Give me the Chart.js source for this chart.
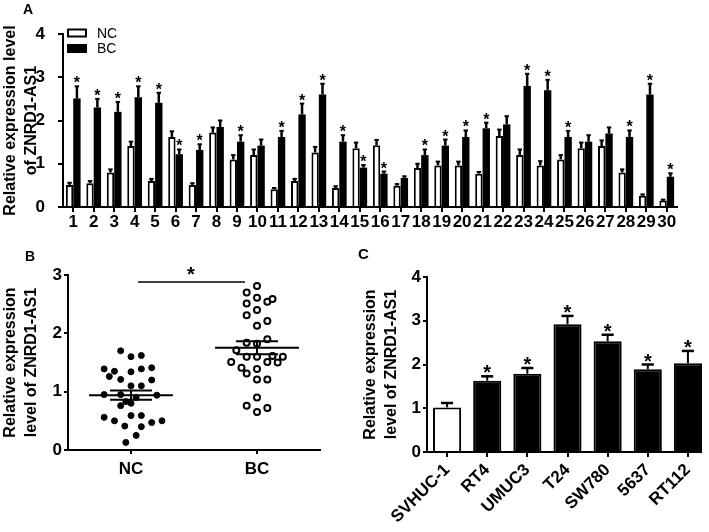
<!DOCTYPE html>
<html><head><meta charset="utf-8">
<script src="https://cdn.jsdelivr.net/npm/chart.js@4.4.1/dist/chart.umd.min.js"></script>
<style>
html,body{margin:0;padding:0;background:#fff;}
#wrap{position:relative;width:709px;height:532px;overflow:hidden;background:#fff;}
canvas{position:absolute;}
.lbl{position:absolute;font:bold 14px "Liberation Sans",Arial,sans-serif;line-height:14px;color:#000;}
</style></head><body>
<div id="wrap">
<canvas id="cA" width="709" height="250" style="left:0;top:0"></canvas>
<canvas id="cB" width="340" height="282" style="left:0;top:250px"></canvas>
<canvas id="cC" width="349" height="282" style="left:360px;top:250px"></canvas>
<div class="lbl" style="left:23px;top:2px">A</div>
<div class="lbl" style="left:25px;top:249px">B</div>
<div class="lbl" style="left:358px;top:246px;font-size:15px;line-height:15px">C</div>
</div>
<script>
// ---------- Panel A data ----------
const caseLabels = ['1','2','3','4','5','6','7','8','9','10','11','12','13','14','15','16','17','18','19','20','21','22','23','24','25','26','27','28','29','30'];
const ncValues = [0.51,0.55,0.80,1.41,0.60,1.62,0.51,1.72,1.10,1.20,0.41,0.60,1.26,0.44,1.36,1.43,0.49,0.90,0.96,0.96,0.77,1.64,1.20,0.96,1.10,1.36,1.41,0.80,0.26,0.15];
const ncErrors = [0.05,0.05,0.07,0.10,0.05,0.13,0.04,0.12,0.10,0.13,0.03,0.05,0.13,0.04,0.13,0.12,0.04,0.10,0.09,0.09,0.04,0.15,0.13,0.10,0.10,0.13,0.13,0.07,0.03,0.02];
const bcValues = [2.51,2.30,2.20,2.54,2.41,1.22,1.32,1.85,1.51,1.42,1.62,2.14,2.60,1.51,0.91,0.77,0.67,1.20,1.42,1.62,1.82,1.91,2.80,2.70,1.62,1.51,1.70,1.62,2.60,0.70];
const bcErrors = [0.28,0.20,0.23,0.25,0.23,0.11,0.13,0.15,0.15,0.14,0.14,0.25,0.25,0.15,0.06,0.05,0.04,0.13,0.14,0.15,0.13,0.19,0.28,0.24,0.14,0.15,0.14,0.15,0.25,0.08];
const bcSignificant = [1,1,1,1,1,1,1,0,1,0,1,1,1,1,1,1,0,1,1,1,1,0,1,1,1,0,0,1,1,1];
const seriesNames = ['NC','BC'];
const yTitle = ['Relative expression level','of ZNRD1-AS1'];

// ---------- Panel B data ----------
const groupLabels = ['NC','BC'];
const ncScatter = [1.70,1.60,1.62,1.39,1.35,1.34,1.39,1.41,1.26,1.21,1.20,1.10,1.10,0.95,0.94,0.95,0.90,0.83,0.76,0.80,0.56,0.50,0.59,0.59,0.47,0.50,0.41,0.40,0.25,0.13];
const ncJitterSlots = [-1,0,1,-2.6,-1.6,0,1,2,-2.1,-1,2,0,1,-2.6,2.5,-1,0.5,-0.5,-1,0,-2.6,-1.6,0,1,2,3,-0.6,1,0.5,-0.5];
const bcScatter = [2.81,2.70,2.61,2.54,2.59,2.51,2.40,2.31,2.21,2.13,1.90,1.84,1.82,1.71,1.60,1.60,1.61,1.60,1.51,1.41,1.39,1.51,1.50,1.31,1.21,1.21,0.90,0.76,0.65,0.72];
const bcJitterSlots = [0,-1,0,1,1.5,-1,0,-1,1,0,1,-1,0,-2,-1,0,1.5,2.5,-2.5,-1.5,0,1,2,-1,0,1,0,-1,0,1];
const yTitleB = ['Relative expression','level of ZNRD1-AS1'];

// ---------- Panel C data ----------
const cellLines = ['SVHUC-1','RT4','UMUC3','T24','SW780','5637','RT112'];
const cellValues = [1.02,1.63,1.79,2.92,2.53,1.89,2.03];
const cellErrors = [0.10,0.10,0.13,0.19,0.15,0.11,0.28];
const cellSignificant = [0,1,1,1,1,1,1];

// ---------- common ----------
const FONT = '"Liberation Sans", Arial, Helvetica, sans-serif';
Chart.defaults.font.family = FONT;
Chart.defaults.color = '#000';
const INK = '#000';
const TICK = 17;

function drawStar(ctx, x, bottomY, size) {
  ctx.save();
  ctx.font = 'bold ' + size + 'px ' + FONT;
  ctx.fillStyle = INK; ctx.textAlign = 'center'; ctx.textBaseline = 'alphabetic';
  const m = ctx.measureText('*');
  ctx.fillText('*', x, bottomY - m.actualBoundingBoxDescent);
  ctx.restore();
}

const errorBarPlugin = {
  id: 'errorBars',
  afterDatasetsDraw(chart, args, opts) {
    const ctx = chart.ctx, y = chart.scales.y;
    chart.data.datasets.forEach((ds, di) => {
      if (!ds.errors) return;
      const meta = chart.getDatasetMeta(di);
      meta.data.forEach((bar, i) => {
        const v = ds.data[i], e = ds.errors[i];
        const yTop = y.getPixelForValue(v + e), yBase = y.getPixelForValue(v);
        ctx.save();
        ctx.strokeStyle = INK; ctx.lineWidth = opts.lineWidth; ctx.lineCap = 'butt';
        ctx.beginPath(); ctx.moveTo(bar.x, yBase); ctx.lineTo(bar.x, yTop); ctx.stroke();
        const half = bar.width * opts.capFrac / 2;
        ctx.lineWidth = opts.capWidth;
        ctx.beginPath(); ctx.moveTo(bar.x - half, yTop); ctx.lineTo(bar.x + half, yTop); ctx.stroke();
        ctx.restore();
        if (ds.stars && ds.stars[i]) drawStar(ctx, bar.x, yTop - opts.starGap, opts.starSize);
      });
    });
  }
};

const scaleCommon = (tickLen, pad, size) => ({
  grid: { display: true, drawOnChartArea: false, drawTicks: true, tickLength: tickLen, color: INK, lineWidth: 2, offset: false },
  border: { display: true, color: INK, width: 2 },
  ticks: { color: INK, padding: pad, font: { family: FONT, size: size, weight: 'bold' } },
  z: 1
});

// ---------- Panel A ----------
const legendPlugin = {
  id: 'insideLegend',
  afterDraw(chart) {
    const ctx = chart.ctx, a = chart.chartArea;
    chart.data.datasets.forEach((ds, i) => {
      const cy = a.top - 1 + i * 15.5;
      const bx = a.left + 4;
      ctx.save();
      ctx.fillStyle = ds.backgroundColor;
      ctx.fillRect(bx, cy - 4.5, 20, 9);
      ctx.strokeStyle = INK; ctx.lineWidth = 2;
      ctx.strokeRect(bx + 1, cy - 3.5, 18, 7);
      ctx.fillStyle = INK; ctx.font = '14px ' + FONT; ctx.textBaseline = 'middle'; ctx.textAlign = 'left';
      ctx.fillText(ds.label, bx + 30, cy + 1);
      ctx.restore();
    });
  }
};

const sA = scaleCommon(5, 0, TICK);
const sAy = scaleCommon(5, 13, TICK);
new Chart(document.getElementById('cA'), {
  type: 'bar',
  data: {
    labels: caseLabels,
    datasets: [
      { label: seriesNames[0], data: ncValues, errors: ncErrors, backgroundColor: '#fff', borderColor: INK, borderWidth: 2, borderSkipped: 'start', barPercentage: 1, categoryPercentage: 0.72 },
      { label: seriesNames[1], data: bcValues, errors: bcErrors, stars: bcSignificant, backgroundColor: INK, borderColor: INK, borderWidth: 0, barPercentage: 1, categoryPercentage: 0.72 }
    ]
  },
  options: {
    responsive: false, animation: false, devicePixelRatio: 1,
    layout: { padding: { left: 0, right: 32, top: 34, bottom: 0 } },
    plugins: { legend: { display: false }, tooltip: { enabled: false },
      errorBars: { lineWidth: 2.5, capWidth: 2, capFrac: 0.6, starSize: 16, starGap: 3 } },
    scales: {
      x: Object.assign({}, sA, { ticks: Object.assign({}, sA.ticks, { autoSkip: false, maxRotation: 0, minRotation: 0 }),
        afterFit(s) { s.height = 43; } }),
      y: Object.assign({}, sAy, { min: 0, max: 4,
        ticks: Object.assign({}, sAy.ticks, { stepSize: 1 }),
        title: { display: true, text: yTitle, color: INK, font: { family: FONT, size: 16, weight: 'bold', lineHeight: 1.3 }, padding: { top: 0, bottom: 0 } },
        afterFit(s) { s.width = 63; } })
    }
  },
  plugins: [errorBarPlugin, legendPlugin]
});

// ---------- Panel B ----------
const SLOT = 0.082;
const meanSemPlugin = {
  id: 'meanSem',
  afterDatasetsDraw(chart) {
    const ctx = chart.ctx, x = chart.scales.x, y = chart.scales.y;
    chart.data.datasets.forEach((ds) => {
      const vals = ds.data.map(p => p.y);
      const n = vals.length;
      const mean = vals.reduce((a, b) => a + b, 0) / n;
      const sd = Math.sqrt(vals.reduce((a, b) => a + (b - mean) * (b - mean), 0) / (n - 1));
      const sem = sd / Math.sqrt(n);
      const g = ds.group;
      ctx.save();
      ctx.strokeStyle = INK; ctx.lineWidth = 2;
      ctx.beginPath();
      ctx.moveTo(x.getPixelForValue(g - 0.333), y.getPixelForValue(mean));
      ctx.lineTo(x.getPixelForValue(g + 0.333), y.getPixelForValue(mean));
      ctx.moveTo(x.getPixelForValue(g), y.getPixelForValue(mean - sem));
      ctx.lineTo(x.getPixelForValue(g), y.getPixelForValue(mean + sem));
      [mean - sem, mean + sem].forEach(v => {
        ctx.moveTo(x.getPixelForValue(g - 0.167), y.getPixelForValue(v));
        ctx.lineTo(x.getPixelForValue(g + 0.167), y.getPixelForValue(v));
      });
      ctx.stroke();
      ctx.restore();
    });
    // significance bracket
    const yl = y.getPixelForValue(2.88);
    ctx.save();
    ctx.strokeStyle = INK; ctx.lineWidth = 1.5;
    ctx.beginPath(); ctx.moveTo(x.getPixelForValue(0.056), yl); ctx.lineTo(x.getPixelForValue(0.905), yl); ctx.stroke();
    ctx.restore();
    drawStar(ctx, x.getPixelForValue(0.476), yl - 7, 20);
  }
};

const sB = scaleCommon(4, 5, TICK);
const sBy = scaleCommon(4, 2, TICK);
new Chart(document.getElementById('cB'), {
  type: 'scatter',
  data: {
    datasets: [
      { label: groupLabels[0], group: 0, data: ncScatter.map((v, i) => ({ x: 0 + ncJitterSlots[i] * SLOT, y: v })),
        pointRadius: 3, pointBorderWidth: 1, pointBackgroundColor: INK, pointBorderColor: INK },
      { label: groupLabels[1], group: 1, data: bcScatter.map((v, i) => ({ x: 1 + bcJitterSlots[i] * SLOT, y: v })),
        pointRadius: 3, pointBorderWidth: 2, pointBackgroundColor: '#fff', pointBorderColor: INK }
    ]
  },
  options: {
    responsive: false, animation: false, devicePixelRatio: 1,
    layout: { padding: { left: 0, right: 20, top: 25, bottom: 0 } },
    plugins: { legend: { display: false }, tooltip: { enabled: false } },
    scales: {
      x: Object.assign({}, sB, { type: 'linear', min: -0.5, max: 1.5,
        afterBuildTicks(s) { s.ticks = [{ value: 0 }, { value: 1 }]; },
        ticks: Object.assign({}, sB.ticks, { callback: v => groupLabels[v], maxRotation: 0 }),
        afterFit(s) { s.height = 82; } }),
      y: Object.assign({}, sBy, { min: 0, max: 3,
        ticks: Object.assign({}, sBy.ticks, { stepSize: 1 }),
        title: { display: true, text: yTitleB, color: INK, font: { family: FONT, size: 16, weight: 'bold', lineHeight: 1.3 }, padding: { top: 0, bottom: 0 } },
        afterFit(s) { s.width = 68; } })
    }
  },
  plugins: [meanSemPlugin]
});

// ---------- Panel C ----------
const axisToLastBarPlugin = {
  id: 'axisToLastBar',
  afterDatasetsDraw(chart) {
    const ctx = chart.ctx, a = chart.chartArea;
    const bars = chart.getDatasetMeta(0).data;
    const last = bars[bars.length - 1];
    ctx.save();
    ctx.strokeStyle = INK; ctx.lineWidth = 2;
    ctx.beginPath(); ctx.moveTo(a.left - 1, a.bottom); ctx.lineTo(last.x + last.width / 2, a.bottom); ctx.stroke();
    ctx.restore();
  }
};
const sC = scaleCommon(5, 3, TICK);
const sCy = scaleCommon(4, 2, TICK);
new Chart(document.getElementById('cC'), {
  type: 'bar',
  data: {
    labels: cellLines,
    datasets: [
      { label: 'cell lines', data: cellValues, errors: cellErrors, stars: cellSignificant,
        backgroundColor: cellValues.map((v, i) => i === 0 ? '#fff' : INK), borderColor: INK, borderWidth: 2, borderSkipped: 'start',
        barPercentage: 0.7, categoryPercentage: 1 }
    ]
  },
  options: {
    responsive: false, animation: false, devicePixelRatio: 1,
    layout: { padding: { left: 0, right: 1, top: 27, bottom: 0 } },
    plugins: { legend: { display: false }, tooltip: { enabled: false },
      errorBars: { lineWidth: 2, capWidth: 2.5, capFrac: 0.43, starSize: 20, starGap: 3 } },
    scales: {
      x: Object.assign({}, sC, { border: { display: false },
        ticks: Object.assign({}, sC.ticks, { autoSkip: false, maxRotation: 45, minRotation: 45 }),
        afterFit(s) { s.height = 80; } }),
      y: Object.assign({}, sCy, { min: 0, max: 4,
        ticks: Object.assign({}, sCy.ticks, { stepSize: 1 }),
        title: { display: true, text: yTitleB, color: INK, font: { family: FONT, size: 16, weight: 'bold', lineHeight: 1.3 }, padding: { top: 0, bottom: 0 } },
        afterFit(s) { s.width = 67; } })
    }
  },
  plugins: [errorBarPlugin, axisToLastBarPlugin]
});
</script>
</body></html>
